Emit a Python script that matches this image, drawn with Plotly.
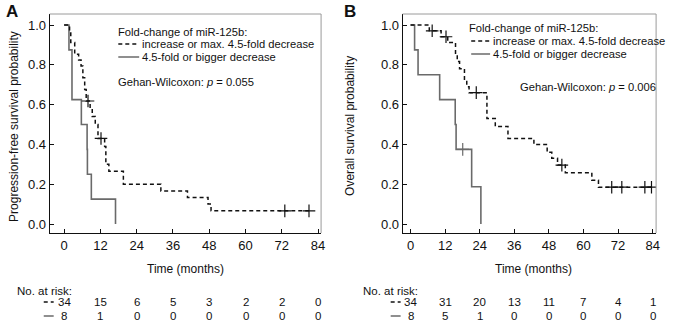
import plotly.graph_objects as go

# ---------------- data ----------------
# Panel A: progression-free survival (Kaplan-Meier steps)
a_hi_t = [0, 1.8, 2.2, 3.5, 4.8, 5.6, 6.2, 6.8, 7.3, 8.6, 9.3, 10.3, 11.2, 13.4, 13.8, 14.8, 19.6, 32.0, 40.8, 47.6, 48.6, 81.0]
a_hi_s = [1.0, 0.971, 0.912, 0.853, 0.824, 0.794, 0.735, 0.676, 0.618, 0.58, 0.54, 0.50, 0.43, 0.39, 0.30, 0.265, 0.20, 0.166, 0.133, 0.10, 0.066, 0.066]
a_hi_cens_t = [7.9, 12.2, 73.0, 81.0]
a_hi_cens_s = [0.618, 0.43, 0.066, 0.066]
a_lo_t = [0, 1.6, 2.6, 5.7, 7.6, 7.7, 9.0, 17.0]
a_lo_s = [1.0, 0.875, 0.625, 0.5, 0.375, 0.25, 0.125, 0.0]

# Panel B: overall survival
b_hi_t = [0, 6.5, 10.6, 12.9, 15.6, 16.2, 17.0, 18.7, 19.5, 20.3, 26.5, 29.4, 33.8, 42.8, 47.4, 49.0, 51.0, 53.7, 62.9, 65.2, 84.5]
b_hi_s = [1.0, 0.971, 0.941, 0.912, 0.85, 0.816, 0.78, 0.72, 0.69, 0.66, 0.53, 0.49, 0.43, 0.40, 0.36, 0.33, 0.296, 0.258, 0.22, 0.185, 0.185]
b_hi_cens_t = [7.5, 12.3, 22.8, 52.5, 69.8, 73.3, 81.3, 83.6]
b_hi_cens_s = [0.971, 0.941, 0.66, 0.296, 0.185, 0.185, 0.185, 0.185]
b_lo_t = [0, 1.4, 2.6, 10.1, 15.5, 15.8, 21.2, 24.4]
b_lo_s = [1.0, 0.875, 0.75, 0.625, 0.5, 0.375, 0.1875, 0.0]
b_lo_cens_t = [18.1]
b_lo_cens_s = [0.375]

time_ticks = [0, 12, 24, 36, 48, 60, 72, 84]
surv_ticks = [0.0, 0.2, 0.4, 0.6, 0.8, 1.0]
a_risk_hi = [34, 15, 6, 5, 3, 2, 2, 0]
a_risk_lo = [8, 1, 0, 0, 0, 0, 0, 0]
b_risk_hi = [34, 31, 20, 13, 11, 7, 4, 1]
b_risk_lo = [8, 5, 1, 0, 0, 0, 0, 0]

legend_title = "Fold-change of miR-125b:"
legend_hi = "increase or max. 4.5-fold decrease"
legend_lo = "4.5-fold or bigger decrease"
a_test = "Gehan-Wilcoxon: <i>p</i> = 0.055"
b_test = "Gehan-Wilcoxon: <i>p</i> = 0.006"
a_ytitle = "Progression-free survival probability"
b_ytitle = "Overall survival probability"
xtitle = "Time (months)"

# ---------------- style ----------------
W, H = 677, 325
FONT = "Liberation Sans, Arial, sans-serif"
BLACK = "#111111"
GRAY = "#6a6a6a"
FRAME = "#9a9a9a"
DASH = "4px,3px"
LEG = 11.2


def px(x):
    return x / W


def py(y):
    return (H - y) / H


fig = go.Figure()

panels = [
    dict(xa="x", ya="y", hi=(a_hi_t, a_hi_s), lo=(a_lo_t, a_lo_s),
         hc=(a_hi_cens_t, a_hi_cens_s), lc=([], []),
         dom=(50, 323), rng=(-4.77, 85.0)),
    dict(xa="x2", ya="y2", hi=(b_hi_t, b_hi_s), lo=(b_lo_t, b_lo_s),
         hc=(b_hi_cens_t, b_hi_cens_s), lc=(b_lo_cens_t, b_lo_cens_s),
         dom=(405, 660), rng=(-2.76, 85.2)),
]

for p in panels:
    fig.add_trace(go.Scatter(x=p["lo"][0], y=p["lo"][1], mode="lines", line_shape="hv",
                             line=dict(color=GRAY, width=1.6), xaxis=p["xa"], yaxis=p["ya"],
                             showlegend=False, hoverinfo="skip"))
    fig.add_trace(go.Scatter(x=p["hi"][0], y=p["hi"][1], mode="lines", line_shape="hv",
                             line=dict(color=BLACK, width=1.5, dash=DASH), xaxis=p["xa"], yaxis=p["ya"],
                             showlegend=False, hoverinfo="skip"))
    fig.add_trace(go.Scatter(x=p["hc"][0], y=p["hc"][1], mode="markers",
                             marker=dict(symbol="cross-thin", size=9, line=dict(color=BLACK, width=1.2)),
                             xaxis=p["xa"], yaxis=p["ya"], showlegend=False, hoverinfo="skip"))
    if p["lc"][0]:
        fig.add_trace(go.Scatter(x=p["lc"][0], y=p["lc"][1], mode="markers",
                                 marker=dict(symbol="cross-thin", size=9, line=dict(color=GRAY, width=1.2)),
                                 xaxis=p["xa"], yaxis=p["ya"], showlegend=False, hoverinfo="skip"))

ydom = [py(233), py(14)]
yr = [-0.0452, 1.0553]
axis_common = dict(showline=True, linecolor=BLACK, linewidth=1, ticks="inside", ticklen=4,
                   tickcolor=BLACK, tickwidth=1, showgrid=False, zeroline=False,
                   tickfont=dict(family=FONT, size=13, color=BLACK), mirror=False)

fig.update_layout(
    width=W, height=H, autosize=False,
    margin=dict(l=0, r=0, t=0, b=0),
    paper_bgcolor="white", plot_bgcolor="white",
    font=dict(family=FONT, size=12, color=BLACK),
    xaxis=dict(domain=[px(50), px(323)], range=list(panels[0]["rng"]), tickvals=time_ticks,
               anchor="y", **axis_common),
    yaxis=dict(domain=ydom, range=yr, tickvals=surv_ticks, tickformat=".1f", anchor="x", **axis_common),
    xaxis2=dict(domain=[px(405), px(660)], range=list(panels[1]["rng"]), tickvals=time_ticks,
                anchor="y2", **axis_common),
    yaxis2=dict(domain=ydom, range=yr, tickvals=surv_ticks, tickformat=".1f", anchor="x2", **axis_common),
)

shapes = []
annotations = []

for (x0, x1) in [(50, 323), (405, 660)]:
    # light top and right frame
    shapes.append(dict(type="line", xref="paper", yref="paper", x0=px(x0), x1=px(x1), y0=py(14), y1=py(14),
                       line=dict(color=FRAME, width=1)))
    shapes.append(dict(type="line", xref="paper", yref="paper", x0=px(x1), x1=px(x1), y0=py(14), y1=py(233),
                       line=dict(color=FRAME, width=1)))


def txt(x, y, s, size=12, xanchor="left", bold=False, angle=0, xref="paper"):
    annotations.append(dict(x=x, y=y, xref=xref, yref="paper", text=("<b>%s</b>" % s) if bold else s,
                            showarrow=False, xanchor=xanchor, yanchor="middle", textangle=angle,
                            font=dict(family=FONT, size=size, color=BLACK)))


def sample(x0, x1, y, dashed):
    shapes.append(dict(type="line", xref="paper", yref="paper", x0=px(x0), x1=px(x1), y0=py(y), y1=py(y),
                       line=dict(color=BLACK if dashed else GRAY, width=1.5, dash=DASH if dashed else "solid")))


# panel letters
txt(px(4), py(11), "A", size=17, bold=True)
txt(px(344), py(11), "B", size=17, bold=True)

# y titles
txt(px(14), py(126), a_ytitle, angle=-90, xanchor="center")
txt(px(352), py(126), b_ytitle, angle=-90, xanchor="center")

# x titles
txt(px(187), py(269), xtitle, xanchor="center")
txt(px(537), py(269), xtitle, xanchor="center")

# legends in panels
txt(px(117), py(32), legend_title, size=LEG)
sample(119, 140, 44, True)
txt(px(141), py(44), legend_hi, size=LEG)
sample(119, 140, 57, False)
txt(px(141), py(57), legend_lo, size=LEG)
txt(px(117), py(82), a_test, size=LEG)

txt(px(470), py(28), legend_title, size=LEG)
sample(474, 493, 41, True)
txt(px(494), py(41), legend_hi, size=LEG)
sample(474, 493, 54, False)
txt(px(494), py(54), legend_lo, size=LEG)
txt(px(521), py(87), b_test, size=LEG)

# risk tables
for xref, x_label, samp, hi, lo in [("x", 15, (44, 54), a_risk_hi, a_risk_lo),
                                     ("x2", 363, (393, 403), b_risk_hi, b_risk_lo)]:
    txt(px(x_label), py(291), "No. at risk:", size=11.5)
    sample(samp[0], samp[1], 302, True)
    sample(samp[0], samp[1], 316, False)
    for t, nh, nl in zip(time_ticks, hi, lo):
        annotations.append(dict(x=t, y=py(302), xref=xref, yref="paper", text=str(nh), showarrow=False,
                                xanchor="center", yanchor="middle", font=dict(family=FONT, size=11.5, color=BLACK)))
        annotations.append(dict(x=t, y=py(316), xref=xref, yref="paper", text=str(nl), showarrow=False,
                                xanchor="center", yanchor="middle", font=dict(family=FONT, size=11.5, color=BLACK)))

fig.update_layout(shapes=shapes, annotations=annotations)
fig.write_html("out.html", config={"displayModeBar": False},
               post_script="document.body.style.margin='0';document.body.style.overflow='hidden';")
